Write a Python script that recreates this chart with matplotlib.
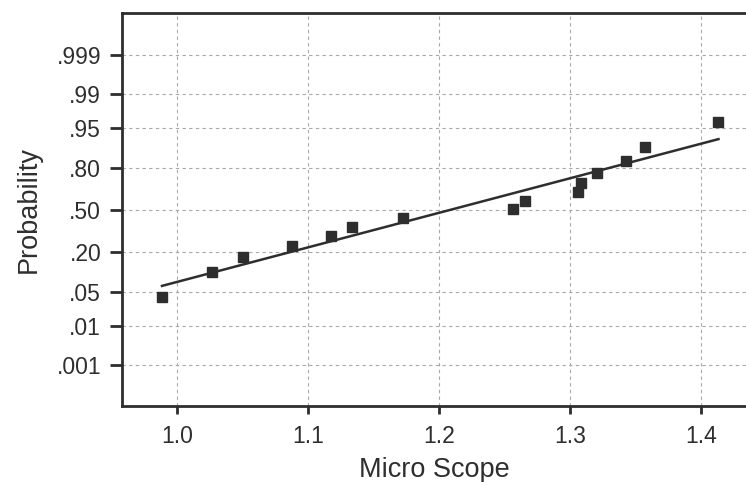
from statistics import NormalDist

import matplotlib
matplotlib.use("Agg")
import matplotlib.pyplot as plt

# data
micro_scope = [0.9885, 1.0267, 1.0500, 1.0880, 1.1176, 1.1336, 1.1725, 1.2565,
               1.2656, 1.3060, 1.3084, 1.3206, 1.3427, 1.3570, 1.4130]
probability = [0.041, 0.107, 0.172, 0.238, 0.303, 0.369, 0.434, 0.508,
               0.572, 0.640, 0.705, 0.770, 0.836, 0.897, 0.960]
# fitted normal line
fit_mean = 1.208
fit_sd = 0.1446

prob_ticks = [0.999, 0.99, 0.95, 0.80, 0.50, 0.20, 0.05, 0.01, 0.001]
prob_labels = [".999", ".99", ".95", ".80", ".50", ".20", ".05", ".01", ".001"]
x_ticks = [1.0, 1.1, 1.2, 1.3, 1.4]

nd = NormalDist()
ink = "#2e2e2e"

plt.rcParams["font.family"] = ["Liberation Sans", "DejaVu Sans"]

fig = plt.figure(figsize=(7.46, 4.82), dpi=100)
ax = fig.add_axes([122 / 746, 76 / 482, 624 / 746, 393 / 482])

z = [nd.inv_cdf(p) for p in probability]
ax.plot(micro_scope, z, "s", color=ink, ms=6.5, mec=ink, zorder=4)

x0, x1 = min(micro_scope), max(micro_scope)
ax.plot([x0, x1], [(x0 - fit_mean) / fit_sd, (x1 - fit_mean) / fit_sd],
        color=ink, lw=1.8, zorder=3)

ax.set_xlim(0.958, 1.434)
ax.set_ylim(-3.92, 3.94)
ax.set_xticks(x_ticks)
ax.set_xticklabels([f"{t:.1f}" for t in x_ticks])
ax.set_yticks([nd.inv_cdf(p) for p in prob_ticks])
ax.set_yticklabels(prob_labels)

# light dashed grid
ax.grid(True, ls=(0, (3, 3)), lw=0.8, color="#a8a8a8")
ax.set_axisbelow(True)

for side in ["left", "bottom", "top"]:
    ax.spines[side].set_linewidth(2)
    ax.spines[side].set_color(ink)
ax.spines["right"].set_visible(False)

ax.tick_params(axis="y", length=9, width=2, pad=6, labelsize=16.5,
               color=ink, labelcolor=ink)
ax.tick_params(axis="x", length=6, width=2, pad=8, labelsize=16.5,
               color=ink, labelcolor=ink)

ax.set_xlabel("Micro Scope", fontsize=19.5, color=ink, labelpad=6)
ax.set_ylabel("Probability", fontsize=19.5, color=ink, labelpad=11)

fig.savefig("out.png", dpi=100)
